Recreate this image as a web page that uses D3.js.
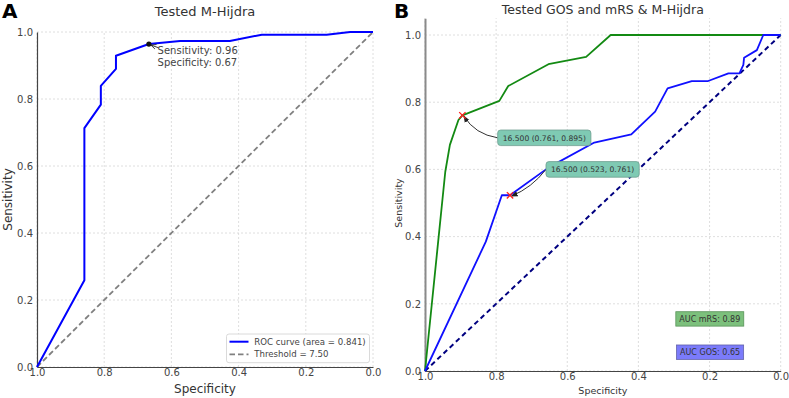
<!DOCTYPE html>
<html><head><meta charset="utf-8">
<script src="https://cdn.jsdelivr.net/npm/d3@7"></script>
<style>body{margin:0;background:#fff}svg{display:block;font-family:"DejaVu Sans",sans-serif}</style>
</head><body><svg id="c" width="789" height="398"></svg>
<script>
// ---- data ----
const ticks = [0, 0.2, 0.4, 0.6, 0.8, 1.0];
const tickLabels = ["0.0", "0.2", "0.4", "0.6", "0.8", "1.0"];
// Panel A: ROC of M-Hijdra (specificity, sensitivity)
const specA = [1.0, 0.859, 0.859, 0.810, 0.810, 0.765, 0.765, 0.667, 0.574, 0.426, 0.331, 0.138, 0.068, 0.0];
const sensA = [0.0, 0.259, 0.713, 0.783, 0.839, 0.890, 0.929, 0.964, 0.973, 0.973, 0.992, 0.992, 1.0, 1.0];
const optA = {spec: 0.667, sens: 0.964};
const legendA = ["ROC curve (area = 0.841)", "Threshold = 7.50"];
// Panel B: mRS (green) and GOS (blue)
const specMRS = [1.0, 0.943, 0.930, 0.906, 0.895, 0.791, 0.766, 0.653, 0.547, 0.478, 0.0];
const sensMRS = [0.0, 0.593, 0.673, 0.747, 0.761, 0.804, 0.848, 0.913, 0.935, 1.0, 1.0];
const specGOS = [1.0, 0.829, 0.784, 0.761, 0.652, 0.524, 0.420, 0.353, 0.318, 0.250, 0.204, 0.147, 0.116, 0.105, 0.103, 0.067, 0.049, 0.0];
const sensGOS = [0.0, 0.385, 0.523, 0.523, 0.606, 0.680, 0.704, 0.772, 0.841, 0.863, 0.863, 0.886, 0.886, 0.911, 0.932, 0.955, 1.0, 1.0];
const optMRS = {spec: 0.895, sens: 0.761, label: "16.500 (0.761, 0.895)"};
const optGOS = {spec: 0.761, sens: 0.523, label: "16.500 (0.523, 0.761)"};
const aucLabels = ["AUC mRS: 0.89", "AUC GOS: 0.65"];

const svg = d3.select("#c");
const defs = svg.append("defs");
defs.append("marker").attr("id","ah").attr("viewBox","0 0 8 8").attr("refX",7).attr("refY",4)
  .attr("markerWidth",7).attr("markerHeight",7).attr("orient","auto")
  .append("path").attr("d","M0,1 L8,4 L0,7 z").attr("fill","#222");
defs.append("marker").attr("id","ao").attr("viewBox","0 0 8 8").attr("refX",7.5).attr("refY",4)
  .attr("markerWidth",7).attr("markerHeight",7).attr("orient","auto")
  .append("path").attr("d","M1,1 L7.5,4 L1,7").attr("fill","none").attr("stroke","#222").attr("stroke-width",1);

function panel(o) {
  const x = d3.scaleLinear().domain([1, 0]).range([o.x0, o.x1]);
  const y = d3.scaleLinear().domain([0, o.ymax]).range([o.y0, o.y1]);
  const g = svg.append("g");
  // grid
  g.selectAll(".gx").data(ticks).join("line").attr("x1", d => x(d)).attr("x2", d => x(d))
    .attr("y1", o.y0).attr("y2", o.y1).attr("stroke", "#d6d6d6").attr("stroke-width", 0.8).attr("stroke-dasharray", "2,2");
  g.selectAll(".gy").data(ticks).join("line").attr("y1", d => y(d)).attr("y2", d => y(d))
    .attr("x1", o.x0).attr("x2", o.x1).attr("stroke", "#d6d6d6").attr("stroke-width", 0.8).attr("stroke-dasharray", "2,2");
  // axes
  const ax = g.append("g").attr("transform", `translate(0,${o.y0})`)
    .call(d3.axisBottom(x).tickValues(ticks).tickFormat((d, i) => tickLabels[i]).tickSize(0).tickPadding(2));
  ax.select(".domain").attr("stroke", "#444").attr("stroke-width", 1.2);
  ax.selectAll("text").attr("font-size", 10).attr("fill", "#444").attr("font-family", "DejaVu Sans");
  const ay = g.append("g").attr("transform", `translate(${o.x0},0)`)
    .call(d3.axisLeft(y).tickValues(ticks).tickFormat((d, i) => tickLabels[i]).tickSize(0).tickPadding(4));
  ay.select(".domain").attr("stroke", o.leftSpine).attr("stroke-width", o.leftW);
  ay.selectAll("text").attr("font-size", 10).attr("fill", "#444").attr("font-family", "DejaVu Sans");
  // labels
  g.append("text").attr("x", (o.x0 + o.x1) / 2).attr("y", o.xlabY).attr("text-anchor", "middle")
    .attr("font-size", o.labFs).attr("fill", "#333").text("Specificity");
  g.append("text").attr("transform", `translate(${o.ylabX},${(o.y0 + o.y1r) / 2}) rotate(-90)`).attr("text-anchor", "middle")
    .attr("font-size", o.labFs).attr("fill", "#333").text("Sensitivity");
  g.append("text").attr("x", (o.x0 + o.x1) / 2).attr("y", o.titleY).attr("text-anchor", "middle")
    .attr("font-size", o.titleFs).attr("fill", "#333").text(o.title);
  g.append("text").attr("x", o.letterX).attr("y", 18).attr("font-size", 20).attr("font-weight", "bold")
    .attr("fill", "#000").text(o.letter);
  return {x, y, g};
}

// ---- Panel A ----
const A = panel({x0: 37, x1: 373, y0: 367, y1: 32, y1r: 32, ymax: 1.0, leftSpine: "#444", leftW: 1.2,
  xlabY: 393, ylabX: 12, labFs: 12, titleY: 16, titleFs: 13, title: "Tested M-Hijdra", letter: "A", letterX: 2});
const lineA = d3.line().x(d => A.x(d[0])).y(d => A.y(d[1]));
A.g.append("path").datum([[1, 0], [0, 1]]).attr("d", lineA).attr("fill", "none")
  .attr("stroke", "#808080").attr("stroke-width", 1.8).attr("stroke-dasharray", "5.5,3");
A.g.append("path").datum(specA.map((s, i) => [s, sensA[i]])).attr("d", lineA).attr("fill", "none")
  .attr("stroke", "#0000ff").attr("stroke-width", 2).attr("stroke-linejoin", "round");
A.g.append("circle").attr("cx", A.x(optA.spec)).attr("cy", A.y(optA.sens)).attr("r", 2.6).attr("fill", "#111");
{
  const tx = A.x(0.641), ty = A.y(0.935);
  A.g.append("line").attr("x1", tx + 1).attr("y1", ty - 6).attr("x2", A.x(optA.spec) + 2).attr("y2", A.y(optA.sens) + 1)
    .attr("stroke", "#222").attr("stroke-width", 0.9).attr("marker-end", "url(#ao)");
  A.g.append("text").attr("x", tx).attr("y", ty).attr("font-size", 10).attr("fill", "#444")
    .text("Sensitivity: " + optA.sens.toFixed(2));
  A.g.append("text").attr("x", tx).attr("y", ty + 12.3).attr("font-size", 10).attr("fill", "#444")
    .text("Specificity: " + optA.spec.toFixed(2));
}
// legend
{
  const lg = A.g.append("g");
  lg.append("rect").attr("x", 226.5).attr("y", 334).attr("width", 143).attr("height", 28.7).attr("rx", 2.5)
    .attr("fill", "#fff").attr("fill-opacity", 0.85).attr("stroke", "#d0d0d0").attr("stroke-width", 0.8);
  lg.append("line").attr("x1", 229.5).attr("x2", 248.5).attr("y1", 341.7).attr("y2", 341.7).attr("stroke", "#0000ff").attr("stroke-width", 2);
  lg.append("line").attr("x1", 229.5).attr("x2", 248.5).attr("y1", 354.3).attr("y2", 354.3).attr("stroke", "#808080")
    .attr("stroke-width", 1.8).attr("stroke-dasharray", "5.5,3");
  lg.selectAll("text.l").data(legendA).join("text").attr("x", 254.3).attr("y", (d, i) => 344.8 + i * 12.6)
    .attr("font-size", 8.6).attr("fill", "#444").text(d => d);
}

// ---- Panel B ----
const B = panel({x0: 425, x1: 780.7, y0: 371, y1: 18.2, y1r: 35, ymax: 1.05, leftSpine: "#8a8a8a", leftW: 2,
  xlabY: 394, ylabX: 402, labFs: 9.5, titleY: 14, titleFs: 12.5, title: "Tested GOS and mRS & M-Hijdra", letter: "B", letterX: 394});
const lineB = d3.line().x(d => B.x(d[0])).y(d => B.y(d[1]));
B.g.append("path").datum([[1, 0], [0, 1]]).attr("d", lineB).attr("fill", "none")
  .attr("stroke", "#000080").attr("stroke-width", 2).attr("stroke-dasharray", "5,3.5");
B.g.append("path").datum(specMRS.map((s, i) => [s, sensMRS[i]])).attr("d", lineB).attr("fill", "none")
  .attr("stroke", "#138a13").attr("stroke-width", 1.8).attr("stroke-linejoin", "round");
B.g.append("path").datum(specGOS.map((s, i) => [s, sensGOS[i]])).attr("d", lineB).attr("fill", "none")
  .attr("stroke", "#1010ff").attr("stroke-width", 1.8).attr("stroke-linejoin", "round");

function annot(opt, tSpec, tSens, rad) {
  const px = B.x(opt.spec), py = B.y(opt.sens);
  const tx = B.x(tSpec), ty = B.y(tSens);
  const grp = B.g.append("g");
  const arrow = grp.append("path");
  const rect = grp.append("rect");
  const t = grp.append("text").attr("x", tx).attr("y", ty + 2.7).attr("font-size", 7.6).attr("fill", "#333").text(opt.label);
  const w = t.node().getComputedTextLength();
  const bx = tx - 5, by = ty - 7.8, bw = w + 10, bh = 15.6;
  rect.attr("x", bx).attr("y", by).attr("width", bw).attr("height", bh).attr("rx", 3)
    .attr("fill", "#7fcab3").attr("stroke", "#6d9d8f").attr("stroke-width", 0.8);
  // curved arrow from box left edge to point
  const sx = bx, sy = ty;
  const mx = (sx + px) / 2, my = (sy + py) / 2;
  const dx = px - sx, dy = py - sy;
  const cx = mx - dy * rad, cy = my + dx * rad;
  arrow.attr("d", `M${sx},${sy} Q${cx},${cy} ${px + 1.5},${py + 0.8}`).attr("fill", "none")
    .attr("stroke", "#333").attr("stroke-width", 1).attr("marker-end", "url(#ah)");
  grp.append("path").attr("d", d3.symbol(d3.symbolX, 28)()).attr("transform", `translate(${px},${py})`)
    .attr("stroke", "#ff2020").attr("stroke-width", 1.3).attr("fill", "none");
}
annot(optMRS, 0.7816, 0.694, -0.22);
annot(optGOS, 0.6458, 0.600, -0.15);

// AUC boxes
const aucStyle = [{fill: "#7cc07c", stroke: "#5a945a"}, {fill: "#7b7bfb", stroke: "#6262a8"}];
const aucPos = [[0.285, 0.155], [0.283, 0.056]];
aucLabels.forEach((lab, i) => {
  const tx = B.x(aucPos[i][0]), ty = B.y(aucPos[i][1]);
  const rct = B.g.append("rect");
  const t = B.g.append("text").attr("x", tx).attr("y", ty + 2.9).attr("font-size", 8).attr("fill", "#333").text(lab);
  const w = t.node().getComputedTextLength();
  rct.attr("x", tx - 3.5).attr("y", ty - 7.2).attr("width", w + 7).attr("height", 14.4)
    .attr("fill", aucStyle[i].fill).attr("stroke", aucStyle[i].stroke).attr("stroke-width", 0.8);
});
</script></body></html>
